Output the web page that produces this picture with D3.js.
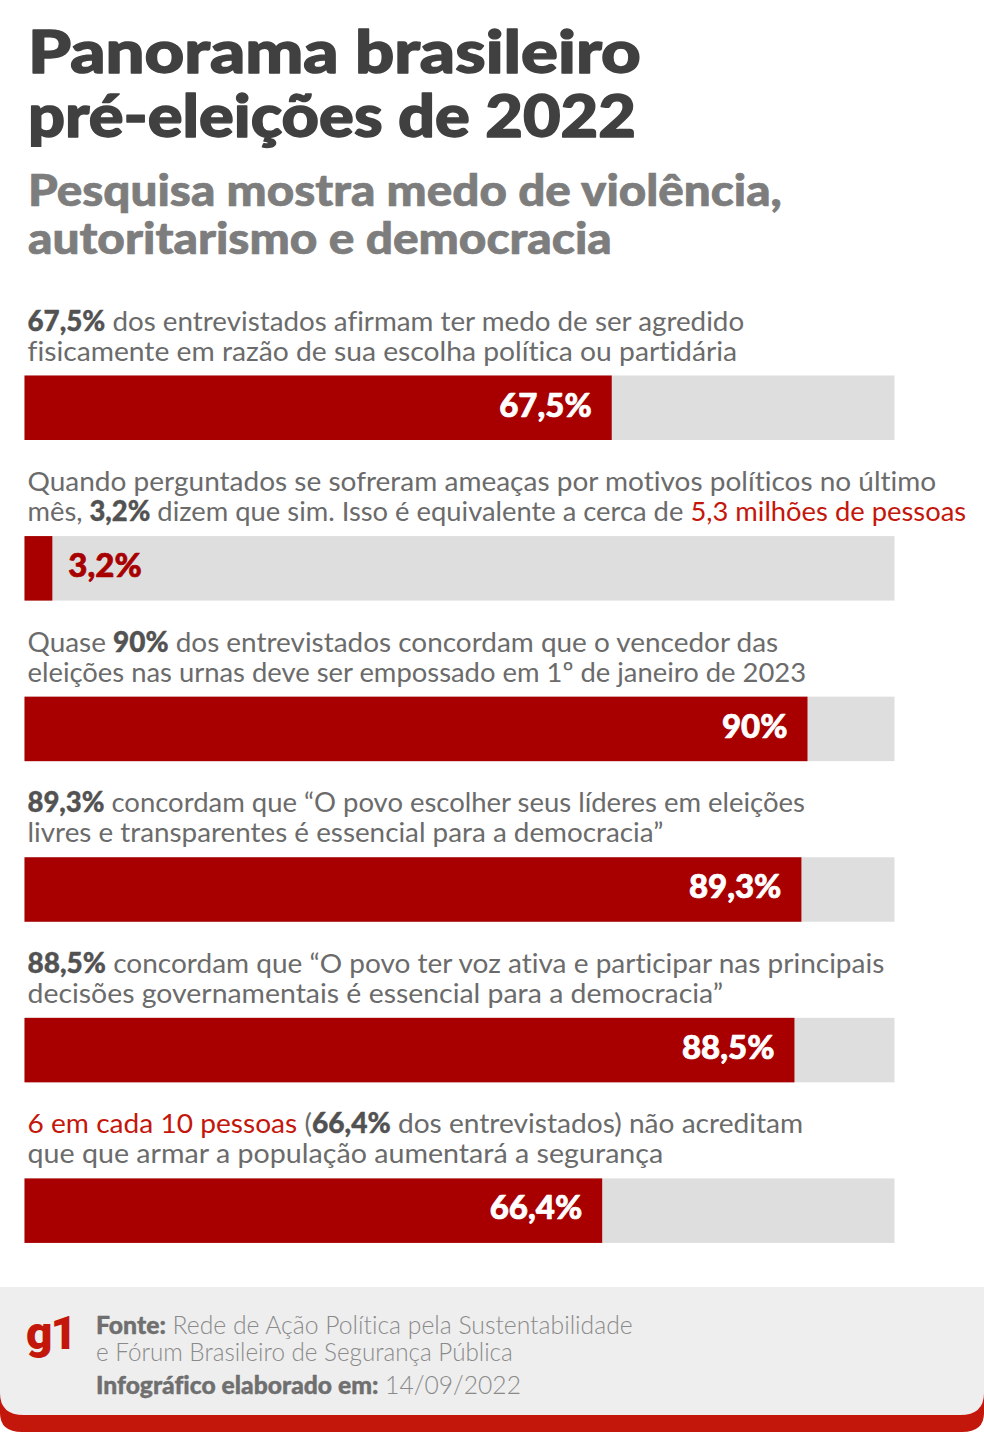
<!DOCTYPE html>
<html>
<head>
<meta charset="utf-8">
<script src="https://cdn.jsdelivr.net/npm/d3@7"></script>
<style>
html, body { margin: 0; padding: 0; background: #fff; }
svg { display: block; }
text { font-family: Lato, sans-serif; font-variant-ligatures: none; }
</style>
</head>
<body>
<div id="chart"></div>
<script>
var title_lines = ["Panorama brasileiro", "pré-eleições de 2022"];
var subtitle_lines = ["Pesquisa mostra medo de violência,", "autoritarismo e democracia"];
var values = [67.5, 3.2, 90, 89.3, 88.5, 66.4];
var value_labels = ["67,5%", "3,2%", "90%", "89,3%", "88,5%", "66,4%"];

// each line is a list of [text, style] pieces; n normal, b bold, r red
var captions = [
	[[["67,5%", "b"], [" dos entrevistados afirmam ter medo de ser agredido", "n"]],
	 [["fisicamente em razão de sua escolha política ou partidária", "n"]]],
	[[["Quando perguntados se sofreram ameaças por motivos políticos no último", "n"]],
	 [["mês, ", "n"], ["3,2%", "b"], [" dizem que sim. Isso é equivalente a cerca de ", "n"], ["5,3 milhões de pessoas", "r"]]],
	[[["Quase ", "n"], ["90%", "b"], [" dos entrevistados concordam que o vencedor das", "n"]],
	 [["eleições nas urnas deve ser empossado em 1º de janeiro de 2023", "n"]]],
	[[["89,3%", "b"], [" concordam que “O povo escolher seus líderes em eleições", "n"]],
	 [["livres e transparentes é essencial para a democracia”", "n"]]],
	[[["88,5%", "b"], [" concordam que “O povo ter voz ativa e participar nas principais", "n"]],
	 [["decisões governamentais é essencial para a democracia”", "n"]]],
	[[["6 em cada 10 pessoas", "r"], [" (", "n"], ["66,4%", "b"], [" dos entrevistados) não acreditam", "n"]],
	 [["que que armar a população aumentará a segurança", "n"]]]
];
var source_lines = [
	[["Fonte:", "b"], [" Rede de Ação Política pela Sustentabilidade", "n"]],
	[["e Fórum Brasileiro de Segurança Pública", "n"]],
	[["Infográfico elaborado em:", "b"], [" 14/09/2022", "n"]]
];

var width = 984, height = 1441;
var colors = { title: "#404040", sub: "#7d7d7d", text: "#6b6b6b", bold: "#525252", red: "#c4170c", bar: "#a80000", track: "#dedede" };

// the original font is wider than Lato, so lines get stretched to these widths
var title_w = [613, 608], sub_w = [754, 584];
var caption_w = [[717, 710], [909, 939], [751, 779], [778, 636], [857, 696], [776, 636]];
var source_w = [537, 417, 425];

var svg = d3.select("#chart").append("svg").attr("width", width).attr("height", height);

var x = d3.scaleLinear().domain([0, 100]).range([24.5, 894.5]);
var y = d3.scaleBand().domain(d3.range(values.length)).range([375.5, 1339]).paddingInner(0).paddingOuter(0);
var bar_h = 64.5;

function fit(t, xpos, ypos, w) {
	var k = w / t.node().getComputedTextLength();
	t.attr("transform", "translate(" + xpos + "," + ypos + ") scale(" + k + ",1)");
}

function heavy(sel, color, sw) {
	sel.attr("stroke", color).attr("stroke-width", sw).attr("stroke-linejoin", "round");
}

title_lines.forEach(function(d, i) {
	var t = svg.append("text").attr("font-size", 59).attr("font-weight", 900).attr("fill", colors.title).text(d);
	heavy(t, colors.title, 1.4);
	fit(t, 28, 73 + i * 64, title_w[i]);
});

subtitle_lines.forEach(function(d, i) {
	var t = svg.append("text").attr("font-size", 44).attr("font-weight", 900).attr("fill", colors.sub).text(d);
	heavy(t, colors.sub, 0.7);
	fit(t, 28, 206 + i * 48, sub_w[i]);
});

function addLine(parent, pieces, xpos, ypos, size, palette, w, light) {
	var t = parent.append("text").attr("font-size", size).attr("xml:space", "preserve");
	pieces.forEach(function(p) {
		var s = t.append("tspan")
			.attr("font-weight", p[1] == "b" ? 900 : light)
			.attr("fill", palette[p[1]])
			.text(p[0]);
		if(p[1] == "b") { heavy(s, palette.b, 0.4); }
	});
	fit(t, xpos, ypos, w);
}

var caption_palette = { n: colors.text, b: colors.bold, r: colors.red };
var rows = svg.selectAll("g.row").data(values).enter().append("g").attr("class", "row");

rows.each(function(d, i) {
	var g = d3.select(this), top = y(i);
	captions[i].forEach(function(line, j) {
		addLine(g, line, 27.5, top - 45 + j * 30, 27.5, caption_palette, caption_w[i][j], 400);
	});
	g.append("rect").attr("x", x(0)).attr("y", top).attr("width", x(100) - x(0)).attr("height", bar_h).attr("fill", colors.track);
	g.append("rect").attr("x", x(0)).attr("y", top).attr("width", x(d) - x(0)).attr("height", bar_h).attr("fill", colors.bar);
	var outside = d < 10;
	var label = g.append("text")
		.attr("x", outside ? x(d) + 16 : x(d) - 20)
		.attr("y", top + 41)
		.attr("text-anchor", outside ? "start" : "end")
		.attr("font-size", 33).attr("font-weight", 900)
		.attr("fill", outside ? colors.bar : "#fff")
		.text(value_labels[i]);
	heavy(label, outside ? colors.bar : "#fff", 0.7);
});

// footer: red card with the grey card on top of it
svg.append("path")
	.attr("d", "M0,1380 H984 V1413 Q984,1432 962,1432 H22 Q0,1432 0,1413 Z")
	.attr("fill", colors.red);
svg.append("path")
	.attr("d", "M0,1287 H984 V1393 Q984,1415 960,1415 H24 Q0,1415 0,1393 Z")
	.attr("fill", "#eeeeee");

svg.append("text").attr("x", 26).attr("y", 1349)
	.attr("font-size", 46).attr("font-weight", 900).attr("fill", colors.red)
	.attr("letter-spacing", -2).style("font-family", "Roboto, sans-serif").text("g1");

var source_palette = { n: "#8a8a8a", b: "#6f6f6f" };
var source_y = [1334, 1361, 1394];
source_lines.forEach(function(line, i) {
	addLine(svg, line, 96, source_y[i], 24.5, source_palette, source_w[i], 300);
});
</script>
</body>
</html>
